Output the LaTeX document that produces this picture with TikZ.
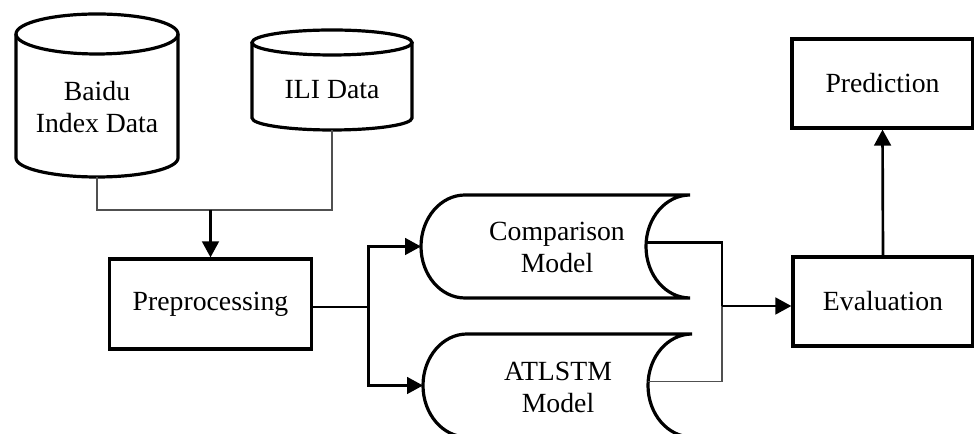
\documentclass[tikz,border=0pt]{standalone}
\usepackage{fontspec}
\setmainfont{Liberation Serif}
\usetikzlibrary{arrows.meta,positioning,calc}
\definecolor{wire}{RGB}{80,80,80}

\begin{document}
\begin{tikzpicture}[x=0.75pt, y=0.75pt,
    every node/.style={font=\fontsize{20.8}{24.5}\selectfont, align=center},
    box/.style={draw, line width=2.4pt, inner sep=0pt},
    flow/.style={line width=2pt, -{Triangle[length=12pt,width=12.5pt]}},
    feed/.style={wire, line width=1.2pt}]
  \useasboundingbox (0,0) rectangle (974,434);

  %% data sources
  \draw[line width=2.4pt] (16,400) -- (16,276)
      arc[start angle=180, end angle=360, x radius=81, y radius=19] -- (178,400);
  \draw[line width=2.4pt] (97,400) ellipse[x radius=81, y radius=20];
  \node (baidu) at (97,327) {Baidu\\Index Data};
  \coordinate (baidu-b) at (97,257);

  \draw[line width=2.4pt] (252,391.5) -- (252,316)
      arc[start angle=180, end angle=360, x radius=80, y radius=12] -- (412,391.5);
  \draw[line width=2.4pt] (332,391.5) ellipse[x radius=80, y radius=12.5];
  \node (ili) at (332,344.5) {ILI Data};
  \coordinate (ili-b) at (332,304);

  %% boxes
  \node[box, minimum width=152pt, minimum height=67.5pt] (prep) at (210.5,130) {Preprocessing};
  \node[box, minimum width=135pt, minimum height=66.75pt] (eval) at (883,132.5) {Evaluation};
  \node[box, minimum width=135.75pt, minimum height=66.75pt] (pred) at (882.5,350.5) {Prediction};

  %% models
  \foreach \n/\x/\y in {comp/421/187.5, atlstm/423/48.5} {
    \draw[line width=2.4pt] (\x+44,\y+51.5)
        arc[start angle=90, end angle=270, x radius=44, y radius=51.5]
        -- (\x+269,\y-51.5)
        arc[start angle=-90, end angle=-270, x radius=44, y radius=51.5]
        -- cycle;
    \coordinate (\n-in) at (\x,\y);
    \coordinate (\n-out) at (\x+225,\y+4);
  }
  \node (comp) at (557,186.5) {Comparison\\Model};
  \node (atlstm) at (558,46.5) {ATLSTM\\Model};

  %% connectors
  \coordinate (merge) at (prep.north |- 0,224);
  \draw[feed] (baidu-b) |- (merge) -| (ili-b);
  \draw[flow] (merge) -- (prep.north);

  \coordinate (fork) at ($(prep.east)+(55,-3)$);
  \draw[line width=2pt] (prep.east |- fork) -- (fork);
  \draw[flow] (fork) |- (comp-in);
  \draw[flow] (fork) |- (atlstm-in);

  \coordinate (join) at (722,128);
  \draw[line width=2pt] (comp-out) -| (join);
  \draw[feed] (atlstm-out) -| (join);
  \draw[flow] (join) -- (eval.west |- join);
  \draw[flow] (eval.north) -- (pred.south);
\end{tikzpicture}
\end{document}
